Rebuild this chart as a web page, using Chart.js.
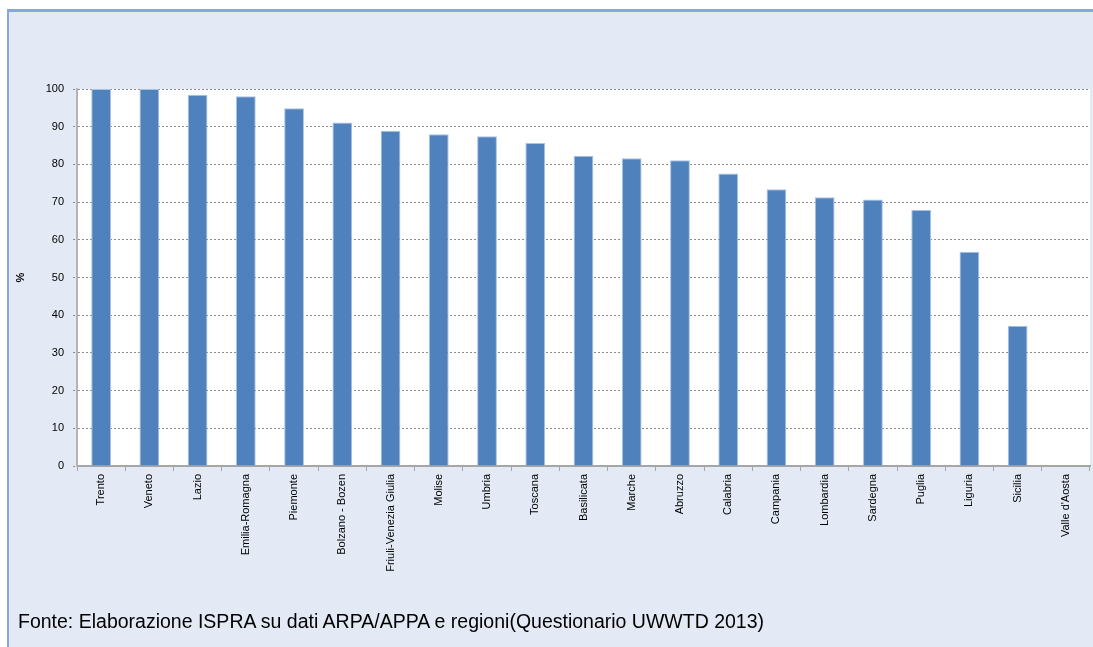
<!DOCTYPE html>
<html>
<head>
<meta charset="utf-8">
<script src="https://cdn.jsdelivr.net/npm/chart.js@4/dist/chart.umd.min.js"></script>
<style>
  html, body { margin: 0; padding: 0; background: #fff; overflow: hidden; }
  #panel {
    position: absolute; left: 7px; top: 9px; width: 1100px; height: 660px;
    background: #E3EAF5; border-left: 2px solid #86A8D8; border-top: 3px solid #86A8D8; box-sizing: border-box;
  }
  #wrap { position: absolute; left: 0; top: 0; width: 1093px; height: 647px; }
  #fonte {
    position: absolute; left: 18px; top: 610px;
    font-family: "Liberation Sans", Arial, sans-serif; font-size: 19.5px; color: #000;
  }
</style>
</head>
<body>
<div id="panel"></div>
<div id="wrap"><canvas id="ch" width="1093" height="647"></canvas></div>
<div id="fonte">Fonte: Elaborazione ISPRA su dati ARPA/APPA e regioni(Questionario UWWTD 2013)</div>
<script>
// Percentuale per regione
const regioni = ['Trento','Veneto','Lazio','Emilia-Romagna','Piemonte','Bolzano - Bozen',
  'Friuli-Venezia Giulia','Molise','Umbria','Toscana','Basilicata','Marche','Abruzzo',
  'Calabria','Campania','Lombardia','Sardegna','Puglia','Liguria','Sicilia',"Valle d'Aosta"];
const valori = [100, 100, 98.5, 98.1, 94.9, 91.1, 88.9, 88.0, 87.5, 85.7, 82.3, 81.6, 81.1,
  77.6, 73.4, 71.3, 70.7, 67.9, 56.8, 37.2, null];
const yMin = 0, yMax = 100, yStep = 10;

const plotBg = {
  id: 'plotBg',
  beforeDraw(chart) {
    const { ctx, chartArea: a } = chart;
    ctx.save();
    ctx.fillStyle = '#fff';
    ctx.fillRect(a.left, a.top, a.right - a.left, a.bottom - a.top);
    ctx.restore();
  }
};

const font = { family: '"Liberation Sans", Arial, sans-serif', size: 11 };

new Chart(document.getElementById('ch'), {
  type: 'bar',
  data: {
    labels: regioni,
    datasets: [{
      data: valori,
      backgroundColor: '#4F81BD',
      borderColor: '#A9C1E2',
      borderWidth: 1,
      borderSkipped: 'bottom',
      barPercentage: 0.41,
      categoryPercentage: 1
    }]
  },
  options: {
    responsive: false,
    animation: false,
    devicePixelRatio: 1,
    layout: { padding: { top: 89, right: 3, bottom: 51, left: 0 } },
    plugins: { legend: { display: false }, tooltip: { enabled: false } },
    scales: {
      x: {
        offset: true,
        grid: { display: true, drawOnChartArea: false, drawTicks: true, tickLength: 5, color: '#A6A6A6', offset: true },
        border: { color: '#A6A6A6', width: 2 },
        ticks: { color: '#000', font, minRotation: 90, maxRotation: 90, autoSkip: false, padding: 3 },
        afterFit(s) { s.height = 130; }
      },
      y: {
        min: yMin, max: yMax,
        ticks: { stepSize: yStep, color: '#000', font, padding: 9 },
        grid: { color: '#8C8C8C', tickLength: 4, tickBorderDash: [2, 2] },
        border: { color: '#B3B3B3', width: 2, dash: [2, 2] },
        title: { display: true, text: '%', color: '#000', font: { family: font.family, size: 11, weight: 'bold' }, padding: { top: 14, bottom: 0 } },
        afterFit(s) { s.width = 77; }
      }
    }
  },
  plugins: [plotBg]
});
</script>
</body>
</html>
